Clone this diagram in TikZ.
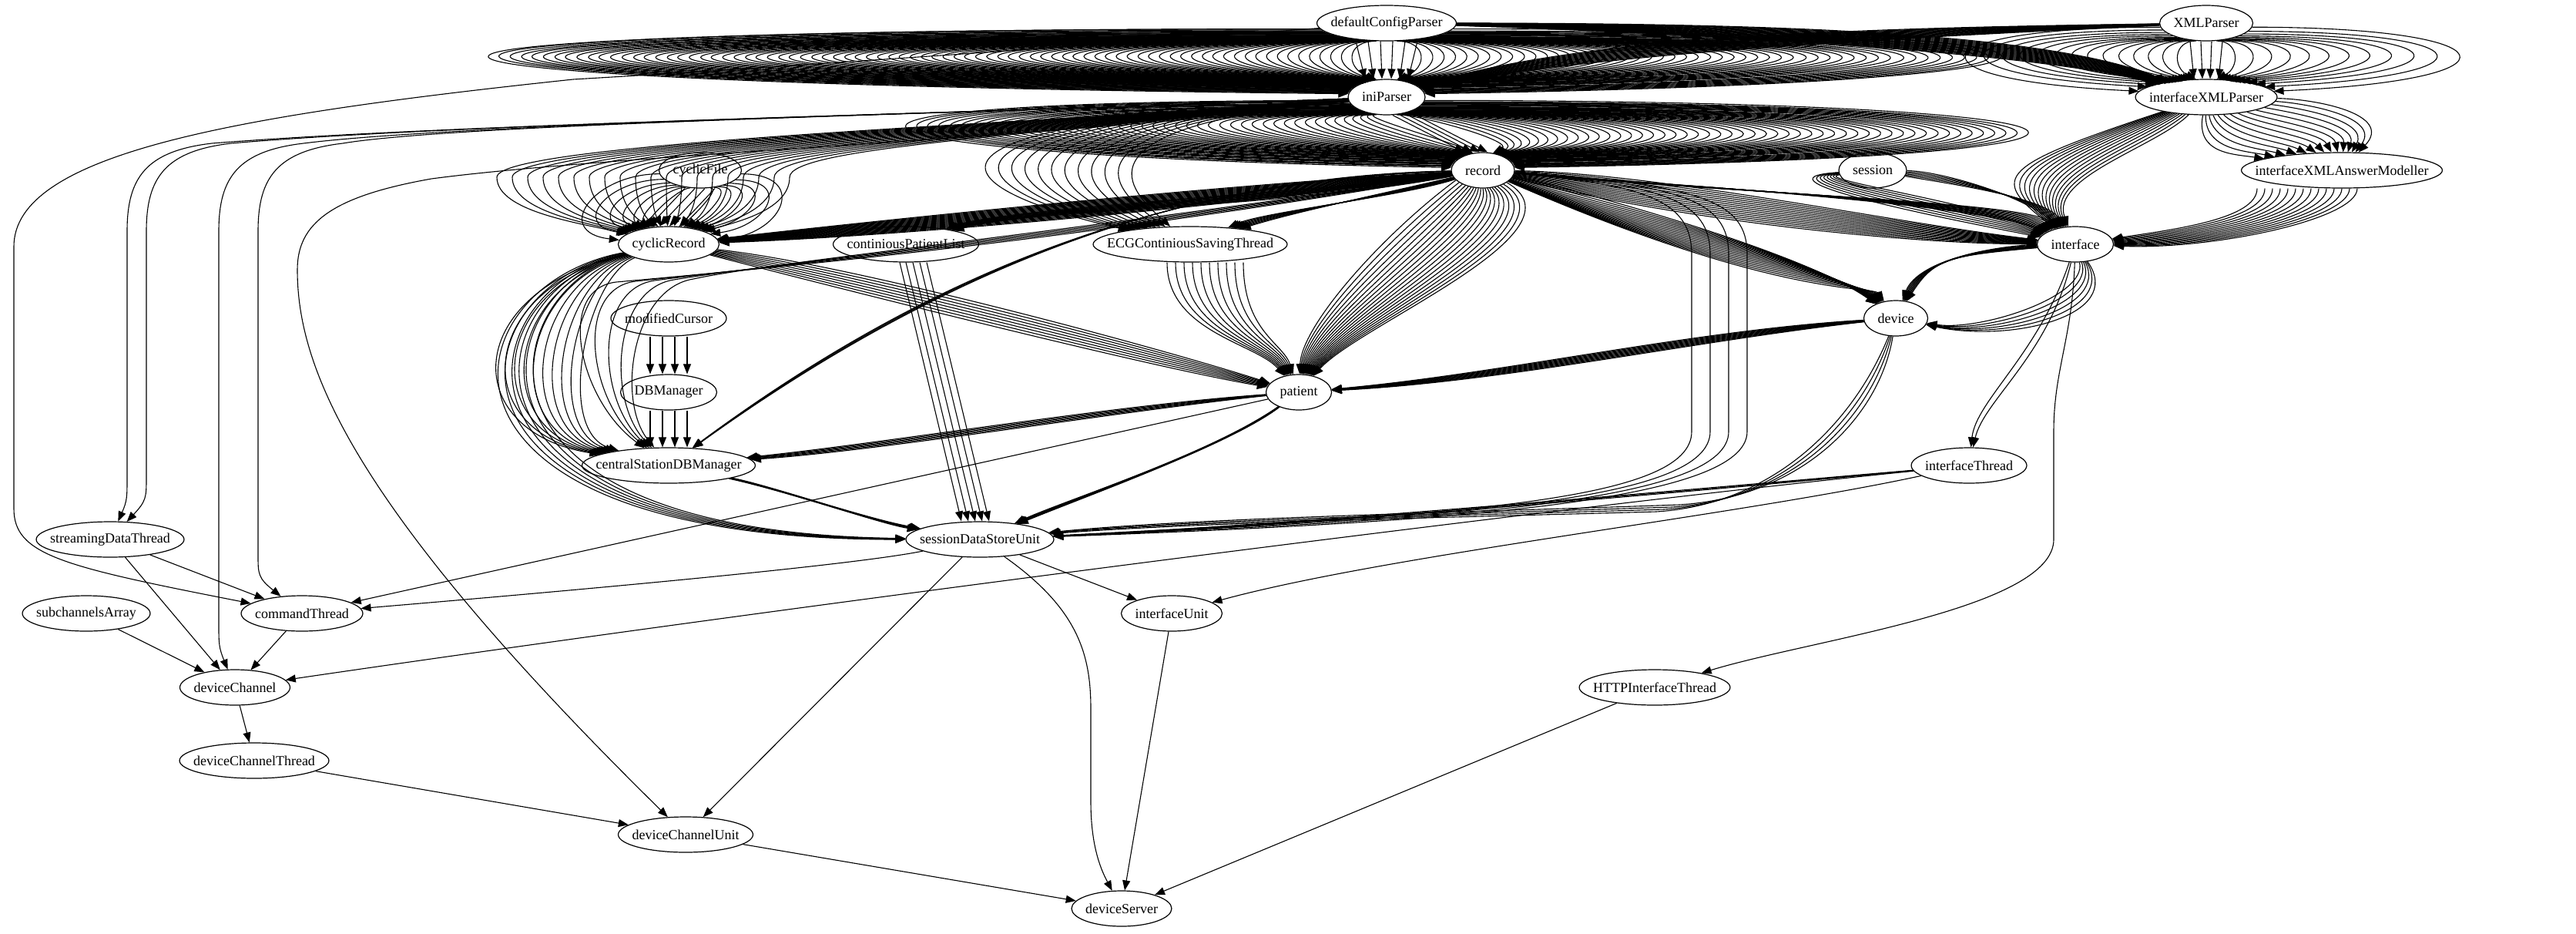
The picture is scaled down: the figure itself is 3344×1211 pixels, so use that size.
\documentclass[tikz,border=0pt]{standalone}
\usepackage{fontspec}
\setmainfont{Liberation Serif}
\usetikzlibrary{shapes.geometric,arrows.meta,calc}
\newcommand\gvfont{\fontsize{18pt}{20pt}\selectfont}
\newlength\gvw
\tikzset{
  gvn/.style={draw, ellipse, inner sep=0pt, minimum height=46pt, line width=1.2pt, font=\gvfont},
  gve/.style={line width=1.1pt, -{Triangle[length=13pt,width=10pt]}},
}
% measure label widths outside the picture
\newcommand\gvmeasure[2]{\settowidth{\gvw}{\gvfont #2}\expandafter\xdef\csname gvwd#1\endcsname{\the\gvw}}
\newcommand\gvnode[3]{%
  \node[gvn, minimum width={\csname gvwd#1\endcsname+36pt}] (#1) at (#2) {\makebox[0pt]{#3}};}
% fan of multi-edges: src, tgt, n, d0, step, sign, lift
\newcommand\gvfan[7]{%
  \foreach \gvi in {1,...,#3}{%
    \pgfmathsetmacro\gvff{(\gvi-1)/max(#3-1,1)}%
    \pgfmathsetmacro\gvdd{#6*(#4+(\gvi-1)*#5)}%
    \pgfmathtruncatemacro\gvsa{#6>0 ? 300+55*\gvff : 240-55*\gvff}%
    \pgfmathtruncatemacro\gvea{#6>0 ? 60-55*\gvff : 120+55*\gvff}%
    \draw[gve] (#1.\gvsa) .. controls ($(#1.\gvsa)+(\gvdd,0)$) and ($(#2.\gvea)+(\gvdd,-#7)$) .. (#2.\gvea);
  }}
% parallel straight multi-edges: src, tgt, list of srcshift/tgtshift
\newcommand\gvpar[3]{%
  \foreach \gva/\gvb in {#3}{\draw[gve] ([xshift=\gva pt]#1.south) -- ([xshift=\gvb pt]#2.north);}}
\begin{document}
\gvmeasure{dcp}{defaultConfigParser}%
\gvmeasure{xmlp}{XMLParser}%
\gvmeasure{inip}{iniParser}%
\gvmeasure{ixp}{interfaceXMLParser}%
\gvmeasure{rec}{record}%
\gvmeasure{cfile}{cyclicFile}%
\gvmeasure{sess}{session}%
\gvmeasure{ixam}{interfaceXMLAnswerModeller}%
\gvmeasure{crec}{cyclicRecord}%
\gvmeasure{cpl}{continiousPatientList}%
\gvmeasure{ecg}{ECGContiniousSavingThread}%
\gvmeasure{intf}{interface}%
\gvmeasure{mcur}{modifiedCursor}%
\gvmeasure{dev}{device}%
\gvmeasure{dbm}{DBManager}%
\gvmeasure{pat}{patient}%
\gvmeasure{csdb}{centralStationDBManager}%
\gvmeasure{ithr}{interfaceThread}%
\gvmeasure{sdt}{streamingDataThread}%
\gvmeasure{sdsu}{sessionDataStoreUnit}%
\gvmeasure{sub}{subchannelsArray}%
\gvmeasure{cmd}{commandThread}%
\gvmeasure{iunit}{interfaceUnit}%
\gvmeasure{dch}{deviceChannel}%
\gvmeasure{http}{HTTPInterfaceThread}%
\gvmeasure{dct}{deviceChannelThread}%
\gvmeasure{dcu}{deviceChannelUnit}%
\gvmeasure{dsrv}{deviceServer}%
\begin{tikzpicture}[x=1pt,y=-1pt]
\useasboundingbox (0,0) rectangle (3344,1211);
% nodes
\gvnode{dcp}{1800,30}{defaultConfigParser}
\gvnode{xmlp}{2864,30}{XMLParser}
\gvnode{inip}{1800,126}{iniParser}
\gvnode{ixp}{2864,126}{interfaceXMLParser}
\gvnode{rec}{1925,221}{record}
\gvnode{cfile}{909,221}{cyclicFile}
\gvnode{sess}{2431,221}{session}
\gvnode{ixam}{3040,221}{interfaceXMLAnswerModeller}
\gvnode{crec}{868,317}{cyclicRecord}
\gvnode{cpl}{1176,317}{continiousPatientList}
\gvnode{ecg}{1545,317}{ECGContiniousSavingThread}
\gvnode{intf}{2694,317}{interface}
\gvnode{mcur}{868,413}{modifiedCursor}
\gvnode{dev}{2461,413}{device}
\gvnode{dbm}{868,509}{DBManager}
\gvnode{pat}{1686,509}{patient}
\gvnode{csdb}{868,604}{centralStationDBManager}
\gvnode{ithr}{2556,604}{interfaceThread}
\gvnode{sdt}{143,700}{streamingDataThread}
\gvnode{sdsu}{1272,700}{sessionDataStoreUnit}
\gvnode{sub}{112,796}{subchannelsArray}
\gvnode{cmd}{392,796}{commandThread}
\gvnode{iunit}{1521,796}{interfaceUnit}
\gvnode{dch}{305,892}{deviceChannel}
\gvnode{http}{2148,892}{HTTPInterfaceThread}
\gvnode{dct}{330,987}{deviceChannelThread}
\gvnode{dcu}{890,1083}{deviceChannelUnit}
\gvnode{dsrv}{1456,1179}{deviceServer}
% ---- rank 0 -> 1
\gvfan{dcp}{inip}{80}{40}{18}{-1}{15}
\gvfan{dcp}{inip}{50}{40}{19}{1}{15}
\gvpar{dcp}{inip}{-40/-28,-24/-17,-8/-6,8/6,24/17,40/28}
\gvfan{xmlp}{ixp}{14}{30}{22}{-1}{15}
\gvfan{xmlp}{ixp}{12}{30}{28}{1}{15}
\gvpar{xmlp}{ixp}{-21/-16,-7/-5,7/5,21/16}
\foreach \k in {0,...,19}{\draw[gve] (dcp) .. controls (2300,{30+\k*0.9}) and (2660,{42+\k*1.6}) .. (ixp);}
\foreach \k in {0,...,14}{\draw[gve] (xmlp) .. controls (2450,{36+\k*1}) and (2060,{44+\k*1.8}) .. (inip);}
\draw[gve] (dcp) .. controls (1400,60) and (1000,88) .. (744,103) .. controls (300,150) and (18,200) .. (18,320) -- (18,660) .. controls (18,720) and (80,735) .. (cmd);
% ---- rank 1 -> 2
\gvfan{inip}{rec}{45}{30}{18.6}{-1}{15}
\gvfan{inip}{rec}{50}{30}{19}{1}{15}
\gvpar{inip}{rec}{8/-24,18/-14,28/-4,38/6}
\foreach \k in {0,...,13}{\draw[gve] (ixp) .. controls ({2850+\k*12},{200-\k*5.5}) and ({2900+\k*16},{200-\k*4}) .. (ixam);}
\foreach \k in {0,...,13}{\draw[gve] (ixp) .. controls ({2800-\k*16},{190+\k*2}) and ({2660-\k*6},230) .. (intf);}
\foreach \xv/\tg/\ye in {165/sdt/620,190/sdt/620,284/dch/810,335/cmd/720}{%
  \draw[gve] (inip) .. controls (1300,146) and (600,160) .. ({\xv+110},186) .. controls ({\xv+25},196) and (\xv,230) .. (\xv,300) -- (\xv,\ye) .. controls (\xv,{\ye+25}) and (\xv,{\ye+30}) .. (\tg);}
\draw[gve] (inip) .. controls (1400,178) and (800,200) .. (560,232) .. controls (430,255) and (386,290) .. (386,350) .. controls (386,480) and (460,660) .. (dcu);
\foreach \k in {0,...,19}{%
  \pgfmathsetmacro\gvxk{645+\k*20}%
  \draw[gve] (inip) .. controls (1350,{160+\k*0.8}) and (\gvxk,{185+\k*0.3}) .. (\gvxk,230) .. controls (\gvxk,275) and ({0.5*\gvxk+434},290) .. (crec);}
% ---- record bundles
\foreach \k in {0,...,19}{\draw[gve] (rec) .. controls (1600,{238+\k*1.6}) and (1150,{285+\k*1.2}) .. (crec);}
\foreach \k in {0,...,7}{\draw[gve] (rec) .. controls ({1700-\k*5},{250+\k*3}) and ({1300+\k*6},270) .. (cpl);}
\foreach \k in {0,...,7}{\draw[gve] (rec) .. controls ({1820-\k*6},255) and ({1640+\k*6},275) .. (ecg);}
\foreach \k in {0,...,11}{\draw[gve] (inip) .. controls ({1100+\k*25},165) and ({1250+\k*20},250) .. (ecg);}
\foreach \k in {0,...,14}{\draw[gve] (rec) .. controls (2150,{224+\k*4}) and (2450,{288+\k*2}) .. (intf);}
\foreach \k in {0,...,9}{\draw[gve] (rec) .. controls ({2100+\k*20},{235+\k*2}) and ({2560+\k*8},262) .. (intf);}
\foreach \k in {0,...,17}{\draw[gve] (rec) .. controls ({2000+\k*18},{235+\k*9}) and ({2330+\k*6},{320+\k*3}) .. (dev);}
\foreach \k in {0,...,19}{%
  \pgfmathtruncatemacro\gvang{200+\k*7}%
  \draw[gve] (rec.\gvang) .. controls ({1800+\k*14},300) and ({1690+\k*4},420) .. (pat);}
\foreach \k in {0,...,3}{%
  \pgfmathsetmacro\gvxv{2196+\k*24}%
  \draw[gve] (rec) .. controls ({\gvxv-60},240) and (\gvxv,260) .. (\gvxv,330) -- (\gvxv,560) .. controls (\gvxv,650) and (1900,{668+\k*3}) .. (sdsu);}
\foreach \k in {0,...,3}{\draw[gve] (rec) .. controls ({1560-\k*10},{228+\k*2}) and ({1250-\k*8},{330+\k*3}) .. (csdb);}
\foreach \k in {0,...,4}{\draw[gve] (rec) .. controls (1400,{300+\k*3}) and (1000,{340+\k*2}) .. ({900-\k*25},{362+\k}) .. controls ({820-\k*25},375) and ({800-\k*12},520) .. (csdb);}
% ---- session, answer modeller
\foreach \k in {0,...,7}{\draw[gve] (sess) .. controls ({2350-\k*14},232) and (2560,{262+\k*4}) .. (intf);}
\foreach \k in {0,...,5}{\draw[gve] (sess) .. controls (2520,{222+\k*3}) and ({2630+\k*5},255) .. (intf);}
\foreach \k in {0,...,13}{%
  \pgfmathsetmacro\gvd{-110+\k*10}%
  \draw[gve] ([xshift=\gvd pt]ixam.south) .. controls ([xshift=\gvd pt,yshift=-40pt]ixam.south) and ({2820+\k*4},{298+\k*2}) .. (intf);}
% ---- cyclic file / record
\gvfan{cfile}{crec}{7}{15}{12}{-1}{10}
\gvfan{cfile}{crec}{7}{15}{12}{1}{10}
\gvpar{cfile}{crec}{-20/-25,-7/-12,6/1,19/14}
\foreach \k in {0,...,7}{\draw[gve] (crec) .. controls (1100,{342+\k*5}) and (1500,{450+\k*4}) .. (pat);}
\foreach \k in {0,...,9}{\draw[gve] (crec) .. controls ({760-\k*18},{360+\k*2}) and ({720-\k*14},560) .. (csdb);}
\foreach \k in {0,...,5}{\draw[gve] (crec) .. controls ({650-\k*14},370) and ({560-\k*10},{690+\k*2}) .. (sdsu);}
\gvpar{mcur}{dbm}{-24/-24,-8/-8,8/8,24/24}
\gvpar{dbm}{csdb}{-24/-24,-8/-8,8/8,24/24}
% ---- patient and others
\foreach \k in {0,...,5}{\draw[gve] (pat) .. controls (1450,{525+\k*1.8}) and (1150,{575+\k*1.8}) .. (csdb);}
\foreach \k in {0,...,5}{\draw[gve] (pat) .. controls ({1600-\k*6},{575+\k*3}) and ({1420-\k*8},{640+\k*2}) .. (sdsu);}
\draw[gve] (pat) -- (cmd);
\foreach \k in {0,...,9}{%
  \pgfmathsetmacro\gvd{-30+\k*11}%
  \draw[gve] ([xshift=\gvd pt]ecg.south) .. controls ([xshift=\gvd pt,yshift=-90pt]ecg.south) and ({1630+\k*4},445) .. (pat);}
\gvpar{cpl}{sdsu}{-8/-24,0/-15,9/-6,18/3,27/12}
\foreach \k in {0,...,9}{\draw[gve] (dev) .. controls (2200,{428+\k*1.6}) and (1950,{485+\k*1.2}) .. (pat);}
\foreach \k in {0,...,3}{\draw[gve] (dev) .. controls ({2440-\k*10},540) and ({2340-\k*10},{645+\k*3}) .. ({2180-\k*10},{655+\k*3}) .. controls (1900,{665+\k*2}) and (1550,{672+\k*2}) .. (sdsu);}
\foreach \k in {0,...,7}{\draw[gve] (intf) .. controls ({2600-\k*10},{318+\k*2}) and ({2490+\k*3},335) .. (dev);}
\foreach \k in {0,...,5}{\draw[gve] (intf) .. controls ({2710+\k*10},{385+\k*5}) and ({2570+\k*8},{430+\k*3}) .. (dev);}
\foreach \k in {0,1}{\draw[gve] (intf) .. controls ({2660-\k*14},460) and ({2575-\k*10},520) .. (ithr);}
\draw[gve] (intf) .. controls (2690,440) and (2666,480) .. (2666,560) -- (2666,700) .. controls (2666,790) and (2350,830) .. (http);
\foreach \k in {0,...,2}{\draw[gve] (ithr) .. controls (2250,{630+\k*1.5}) and (1700,{680+\k*1.5}) .. (sdsu);}
\draw[gve] (ithr) .. controls (2250,670) and (1800,720) .. (iunit);
\draw[gve] (ithr) .. controls (2000,660) and (1000,790) .. (dch);
\foreach \k in {0,...,4}{\draw[gve] (csdb) .. controls ({1000+\k*6},{630+\k*2}) and ({1120+\k*6},{672+\k*2}) .. (sdsu);}
% ---- lower part
\draw[gve] (sdsu) .. controls (1100,735) and (700,770) .. (cmd);
\draw[gve] (sdsu) -- (dcu);
\draw[gve] (sdsu) -- (iunit);
\draw[gve] (sdsu) .. controls (1400,790) and (1416,850) .. (1416,920) -- (1416,1040) .. controls (1416,1100) and (1430,1130) .. (dsrv);
\draw[gve] (iunit) -- (dsrv);
\draw[gve] (http) -- (dsrv);
\draw[gve] (dcu) -- (dsrv);
\draw[gve] (dct) -- (dcu);
\draw[gve] (dch) -- (dct);
\draw[gve] (sub) -- (dch);
\draw[gve] (cmd) -- (dch);
\draw[gve] (sdt) -- (cmd);
\draw[gve] (sdt) -- (dch);
\end{tikzpicture}
\end{document}
